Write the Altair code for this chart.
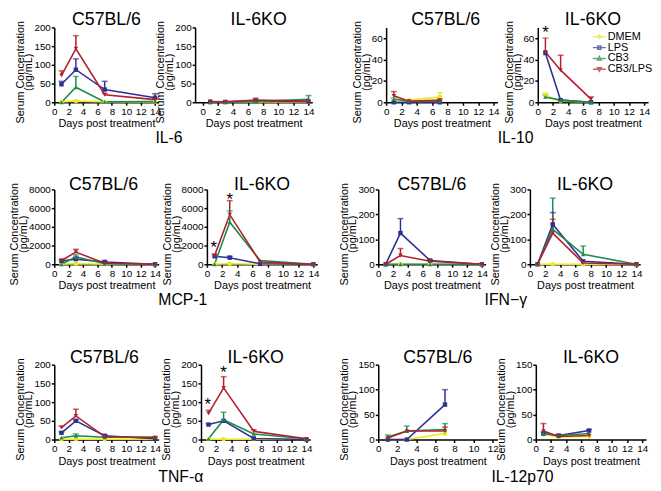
import altair as alt
import pandas as pd

SANS = "Liberation Sans, Arial, sans-serif"

TREATMENTS = ["DMEM", "LPS", "CB3", "CB3/LPS"]
COLORS = ["#e8e81a", "#2e3192", "#1c8b4b", "#b3202d"]
SHAPES = ["circle", "square", "triangle-up", "triangle-down"]
LEGEND_SHAPES = [
    "M-1.45,0L1.45,0M0,-0.4L0.4,0L0,0.4L-0.4,0Z",
    "M-1.45,0L1.45,0M-0.35,-0.35L0.35,-0.35L0.35,0.35L-0.35,0.35Z",
    "M-1.45,0L1.45,0M0,-0.45L0.45,0.35L-0.45,0.35Z",
    "M-1.45,0L1.45,0M-0.45,-0.35L0.45,-0.35L0,0.45Z",
]

DAYS_LONG = [1, 3, 7, 14]
DAYS_SHORT = [1, 3, 7]

# rows: DMEM, LPS, CB3, CB3/LPS
IL6_C57_MEAN = [[1, 3, 1, 1], [48, 87, 34, 12], [0, 40, 1, 2], [72, 143, 20, 7]]
IL6_C57_ERR = [[0, 0, 0, 0], [8, 29, 22, 11], [0, 29, 0, 0], [12, 35, 4, 3]]
IL6_KO_MEAN = [[0, 0, 1, 1], [1, 1, 3, 2], [0, 0, 2, 8], [2, 1, 6, 3]]
IL6_KO_ERR = [[0, 0, 0, 0], [0, 0, 0, 0], [0, 0, 0, 10], [0, 0, 5, 0]]

IL10_C57_MEAN = [[2, 2, 5], [0, 0, 0], [3, 1, 1], [6, 1, 2]]
IL10_C57_ERR = [[0, 0, 4], [0, 0, 0], [1, 0, 0], [4, 0, 1]]
IL10_KO_MEAN = [[6, 1, 0], [46, 2, 0], [5, 2, 0], [47, 30, 3]]
IL10_KO_ERR = [[3, 0, 0], [0, 0, 0], [2, 0, 0], [13, 14, 2]]

MCP1_C57_MEAN = [[0, 50, 0, 0], [350, 550, 250, 0], [0, 800, 50, 0], [400, 1300, 100, 0]]
MCP1_C57_ERR = [[0, 0, 0, 0], [0, 200, 100, 0], [0, 200, 0, 0], [100, 300, 0, 0]]
MCP1_KO_MEAN = [[0, 50, 0, 0], [850, 700, 50, 0], [0, 4500, 400, 0], [900, 5300, 250, 0]]
MCP1_KO_ERR = [[0, 0, 0, 0], [0, 150, 0, 0], [0, 1200, 0, 0], [200, 1500, 0, 0]]

IFNG_C57_MEAN = [[0, 0, 0, 0], [0, 125, 15, 0], [0, 0, 0, 0], [0, 35, 12, 0]]
IFNG_C57_ERR = [[0, 0, 0, 0], [0, 58, 3, 0], [0, 0, 0, 0], [0, 28, 5, 0]]
IFNG_KO_MEAN = [[0, 0, 0, 0], [0, 160, 12, 0], [0, 140, 40, 0], [0, 125, 5, 0]]
IFNG_KO_ERR = [[0, 0, 0, 0], [0, 47, 0, 0], [0, 125, 33, 0], [0, 55, 0, 0]]

TNF_C57_MEAN = [[1, 1, 1, 1], [18, 50, 10, 2], [5, 10, 6, 7], [32, 63, 8, 5]]
TNF_C57_ERR = [[0, 0, 0, 0], [2, 3, 3, 0], [0, 5, 0, 0], [4, 18, 0, 2]]
TNF_KO_MEAN = [[1, 1, 1, 1], [40, 50, 3, 0], [2, 53, 15, 2], [70, 138, 22, 2]]
TNF_KO_ERR = [[0, 0, 0, 0], [2, 0, 0, 0], [0, 20, 0, 0], [8, 30, 4, 0]]

IL12_C57_MEAN = [[0, 0, 12], [0, 0, 70], [5, 17, 20], [3, 17, 17]]
IL12_C57_ERR = [[0, 0, 0], [0, 0, 30], [4, 10, 12], [0, 0, 8]]
IL12_KO_MEAN = [[10, 5, 6], [12, 8, 18], [12, 8, 12], [17, 6, 8]]
IL12_KO_ERR = [[0, 0, 0], [0, 0, 2], [3, 2, 0], [15, 0, 0]]

IL10_KO_STAR_DAYS = [1]
IL10_KO_STAR_VALUES = [68]
MCP1_KO_STAR_DAYS = [0.9, 3]
MCP1_KO_STAR_VALUES = [2100, 7300]
TNF_KO_STAR_DAYS = [0.9, 3]
TNF_KO_STAR_VALUES = [103, 187]

Y_TITLE = ["Serum Concentration", "(pg/mL)"]
X_TITLE = "Days post treatment"
PANEL_H = 76
ONE = pd.DataFrame({"v": [0]})


def build_df(days, means, errs):
    rows = []
    for t, ms, es in zip(TREATMENTS, means, errs):
        for d, m, e in zip(days, ms, es):
            rows.append({"day": d, "treatment": t, "value": m, "err": e, "top": m + e})
    return pd.DataFrame(rows)


def panel(name, days, means, errs, ymax, ystep, width, xmin=0, xmax=14.5, xlast=14,
          tdx=0, toff=-9, star_days=None, star_vals=None, legend=False):
    df = build_df(days, means, errs)
    xscale = alt.Scale(domain=[xmin, xmax], nice=False, zero=False)
    yscale = alt.Scale(domain=[0, ymax], nice=False)
    xaxis = alt.Axis(values=list(range(0, xlast + 1, 2)), title=X_TITLE)
    yaxis = alt.Axis(values=list(range(0, ymax + 1, ystep)), title=Y_TITLE, format="d",
                     titleY=PANEL_H / 2 + 7)
    x = alt.X("day:Q", scale=xscale, axis=xaxis)

    def y(field):
        return alt.Y(f"{field}:Q", scale=yscale, axis=yaxis)

    color = alt.Color("treatment:N", scale=alt.Scale(domain=TREATMENTS, range=COLORS), legend=None)
    base = alt.Chart(df)
    lines = base.mark_line(strokeWidth=1.6).encode(x=x, y=y("value"), color=color)
    has_err = base.transform_filter("datum.err > 0")
    bars = has_err.mark_rule(strokeWidth=1.5).encode(x=x, y=y("value"), y2="top:Q", color=color)
    caps = has_err.mark_tick(orient="horizontal", size=6, thickness=1.5).encode(
        x=x, y=y("top"), color=color)
    pts = base.mark_point(filled=True, opacity=1, size=20).encode(
        x=x, y=y("value"), color=color,
        shape=alt.Shape("treatment:N", scale=alt.Scale(domain=TREATMENTS, range=SHAPES), legend=None))
    layers = [lines, bars, caps, pts]
    if star_days:
        sdf = pd.DataFrame({"day": star_days, "value": star_vals})
        layers.append(alt.Chart(sdf).mark_text(text="*", fontSize=17, font=SANS, color="black", dy=4)
                      .encode(x=x, y=y("value")))
    if legend:
        ldf = pd.DataFrame({"lg": TREATMENTS, "day": [None] * 4, "value": [None] * 4})
        leg = alt.Legend(orient="none", legendX=57, legendY=4, title=None, labelFont=SANS,
                         labelFontSize=11, labelColor="black", symbolSize=81,
                         symbolStrokeWidth=1.5, labelOffset=3, rowPadding=-1, padding=0)
        layers.append(alt.Chart(ldf).mark_point(strokeWidth=1.5).encode(
            x=x, y=y("value"),
            color=alt.Color("lg:N", scale=alt.Scale(domain=TREATMENTS, range=COLORS), legend=leg),
            shape=alt.Shape("lg:N", scale=alt.Scale(domain=TREATMENTS, range=LEGEND_SHAPES), legend=leg)))
    ch = alt.layer(*layers).properties(
        width=width, height=PANEL_H,
        title=alt.TitleParams(name, anchor="middle", frame="group", fontSize=18, font=SANS,
                              fontWeight="normal", color="black", offset=toff, dx=tdx))
    if legend:
        ch = ch.resolve_scale(color="independent", shape="independent")
    return ch


def spacer(w, label=None, dx=0, off=30):
    sp = alt.Chart(ONE).mark_point(opacity=0).encode(x=alt.value(0), y=alt.value(0)).properties(
        width=w, height=PANEL_H)
    if label:
        sp = sp.properties(title=alt.TitleParams(label, orient="bottom", anchor="middle", frame="group",
                                                 fontSize=16, font=SANS, fontWeight="normal",
                                                 color="black", offset=off, dx=dx))
    return sp


def row(panels, gaps, labels, dxs, off):
    p1, p2, p3, p4 = panels
    return alt.hconcat(
        p1, spacer(gaps[0], labels[0], dxs[0], off), p2, spacer(gaps[1]),
        p3, spacer(gaps[2], labels[1], dxs[1], off), p4,
        spacing=0, bounds="flush")


r1 = row([
    panel("C57BL/6", DAYS_LONG, IL6_C57_MEAN, IL6_C57_ERR, 200, 50, 106, tdx=0, toff=-9),
    panel("IL-6KO", DAYS_LONG, IL6_KO_MEAN, IL6_KO_ERR, 200, 50, 119, xmin=-1, tdx=5, toff=-9),
    panel("C57BL/6", DAYS_SHORT, IL10_C57_MEAN, IL10_C57_ERR, 70, 20, 113, tdx=4, toff=-9),
    panel("IL-6KO", DAYS_SHORT, IL10_KO_MEAN, IL10_KO_ERR, 70, 20, 112, toff=-9,
          star_days=IL10_KO_STAR_DAYS, star_vals=IL10_KO_STAR_VALUES, legend=True),
], [37, 75, 41], ["IL-6", "IL-10"], [-8, -2], 28.5)

r2 = row([
    panel("C57BL/6", DAYS_LONG, MCP1_C57_MEAN, MCP1_C57_ERR, 8000, 2000, 106, tdx=-3, toff=-11.5),
    panel("IL-6KO", DAYS_LONG, MCP1_KO_MEAN, MCP1_KO_ERR, 8000, 2000, 112, toff=-11.5,
          star_days=MCP1_KO_STAR_DAYS, star_vals=MCP1_KO_STAR_VALUES),
    panel("C57BL/6", DAYS_LONG, IFNG_C57_MEAN, IFNG_C57_ERR, 300, 100, 109, toff=-11.5),
    panel("IL-6KO", DAYS_LONG, IFNG_KO_MEAN, IFNG_KO_ERR, 300, 100, 112, toff=-11.5),
], [49, 62, 45], ["MCP-1", "IFN\u2212\u03b3"], [0, -2], 28.5)

r3 = row([
    panel("C57BL/6", DAYS_LONG, TNF_C57_MEAN, TNF_C57_ERR, 200, 50, 106, tdx=-2, toff=-9.5),
    panel("IL-6KO", DAYS_LONG, TNF_KO_MEAN, TNF_KO_ERR, 200, 50, 111, toff=-9.5,
          star_days=TNF_KO_STAR_DAYS, star_vals=TNF_KO_STAR_VALUES),
    panel("C57BL/6", DAYS_SHORT, IL12_C57_MEAN, IL12_C57_ERR, 150, 50, 121, xmax=12.5, xlast=12,
          toff=-9.5),
    panel("IL-6KO", DAYS_SHORT, IL12_KO_MEAN, IL12_KO_ERR, 150, 50, 112, toff=-9.5),
], [43, 69, 39], ["TNF-\u03b1", "IL-12p70"], [1, 6], 30.5)

chart = alt.vconcat(alt.vconcat(r1, r2, spacing=29.5), r3, spacing=41.5).properties(padding=0)

chart = chart.configure_view(strokeWidth=0).configure_title(fontWeight="normal").configure_axis(
    domainColor="black", domainWidth=1.5, tickColor="black", tickWidth=1.5, tickSize=3,
    labelColor="black", labelFont=SANS, labelFontSize=10, labelPadding=1,
    titleFont=SANS, titleFontSize=11, titleFontWeight="normal", titleColor="black",
    grid=False, labelFlush=False, labelOverlap=False,
).configure_axisY(titlePadding=0, titleLineHeight=9).configure_axisX(titlePadding=2)

chart.save("out.html", embed_options={"renderer": "svg", "actions": False})
